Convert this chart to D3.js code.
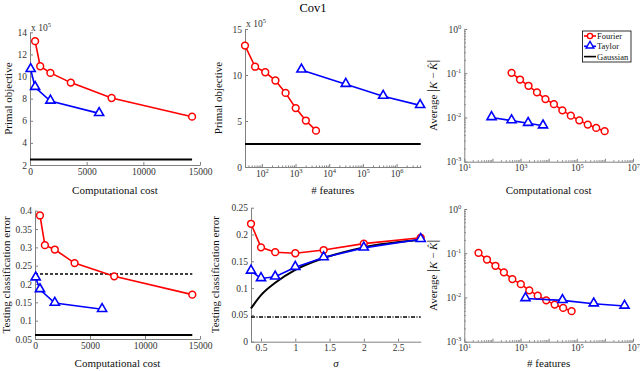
<!DOCTYPE html>
<html>
<head>
<meta charset="utf-8">
<script src="https://cdn.jsdelivr.net/npm/d3@7"></script>
<style>
  body { margin: 0; background: #fff; }
  svg { font-family: "Liberation Serif", "DejaVu Serif", serif; }
  .axis path, .axis line { stroke: #808080; }
  .axis text { fill: #333; font-size: 9.5px; font-family: "Liberation Serif", serif; }
  .lbl { font-size: 11px; fill: #111; }
</style>
</head>
<body>
<svg id="chart" width="640" height="371"></svg>
<script>
// ---- data ----
// panel 1 & 4 : computational cost
const fourierCost = [450, 900, 1800, 3600, 7200, 14300]
const taylorCost = [60, 450, 1800, 6100]
const fourierPrimal = [13.2, 10.93, 10.33, 9.45, 8.06, 6.37]   // x 10^5
const taylorPrimal = [10.65, 9.03, 7.79, 6.67]
const gaussPrimal = 2.5
const fourierTestErr = [0.387, 0.306, 0.294, 0.257, 0.221, 0.171]
const taylorTestErr = [0.217, 0.185, 0.148, 0.131]
const dashedErr = 0.227
const gaussTestErr = 0.061

// panel 2 : # features
const fourierFeat8 = [31.6, 63, 126, 253, 506, 1012, 2024, 4048]
const fourierPrimal8 = [13.2, 10.9, 10.3, 9.4, 8.05, 6.4, 5.05, 3.95]
const taylorFeat = [1500, 31000, 400000, 5000000]
const taylorPrimal2 = [10.55, 9.0, 7.7, 6.7]

// panels 3 & 6 : kernel approximation error
const fourierCost12 = [480, 960, 1920, 3840, 7680, 15360, 30720, 61440, 122880, 245760, 491520, 983040]
const fourierFeat12 = [32, 64, 128, 256, 512, 1024, 2048, 4096, 8192, 16384, 32768, 65536]
const fourierKerr = [0.102, 0.072, 0.052, 0.037, 0.026, 0.020, 0.0145, 0.011, 0.0086, 0.0069, 0.0058, 0.0049]
const taylorCost3 = [93, 480, 1860, 6300]
const taylorKerr = [0.0100, 0.0085, 0.0074, 0.0065]
const taylorKerr6 = [0.0095, 0.0086, 0.0072, 0.0064]

// panel 5 : sigma
const sigmas = [0.354, 0.5, 0.707, 1, 1.414, 2, 2.83]
const fourierSigErr = [0.220, 0.176, 0.167, 0.165, 0.171, 0.183, 0.194]
const taylorSigErr = [0.132, 0.118, 0.121, 0.139, 0.157, 0.175, 0.191]
const gaussSigErr = [0.062, 0.087, 0.110, 0.134, 0.156, 0.176, 0.190]
const dashDotErr = 0.046

const RED = "#ff0000", BLUE = "#0000ff"
const svg = d3.select("#chart")

// title
svg.append("text").attr("x", 313).attr("y", 12).attr("text-anchor", "middle")
  .attr("font-size", 12.5).text("Cov1")

// helper: superscript labels for log axes (only decades listed in keep)
const supLabels = (sel, keep) => {
  sel.selectAll(".tick text").each(function(d) {
    const t = d3.select(this)
    const e = Math.round(Math.log10(d))
    if (keep && !keep.includes(e)) { t.text(""); return }
    t.text("10").append("tspan").attr("dy", "-0.6em").attr("font-size", "6.5px").text(e)
  })
}

const logTicks = (lo, hi) => {
  let major = [], minor = []
  for (let e = Math.floor(Math.log10(lo)); e <= Math.ceil(Math.log10(hi)); e++) {
    for (let m = 1; m < 10; m++) {
      const v = m * Math.pow(10, e)
      if (v < lo * 0.999 || v > hi * 1.001) continue
      if (m === 1) major.push(v); else minor.push(v)
    }
  }
  return { major, minor }
}

// build a panel: returns scales
const panel = (cfg) => {
  const x = (cfg.xlog ? d3.scaleLog() : d3.scaleLinear()).domain(cfg.xd).range([cfg.x0, cfg.x1])
  const y = (cfg.ylog ? d3.scaleLog() : d3.scaleLinear()).domain(cfg.yd).range([cfg.y1, cfg.y0])
  const g = svg.append("g")

  // x axis
  const xa = d3.axisBottom(x).tickSize(-3).tickPadding(3).tickSizeOuter(0)
  if (cfg.xlog) {
    const t = logTicks(cfg.xd[0], cfg.xd[1])
    xa.tickValues(t.major)
    g.append("g").attr("class", "axis").attr("transform", `translate(0,${cfg.y1})`)
      .call(d3.axisBottom(x).tickValues(t.minor).tickSize(-1.5).tickFormat(""))
      .select(".domain").remove()
  } else {
    xa.tickValues(cfg.xt).tickFormat(d => d)
  }
  const xg = g.append("g").attr("class", "axis").attr("transform", `translate(0,${cfg.y1})`).call(xa)
  if (cfg.xlog) supLabels(xg, cfg.xMajor)

  // y axis
  const ya = d3.axisLeft(y).tickSize(-3).tickPadding(2).tickSizeOuter(0)
  if (cfg.ylog) {
    const t = logTicks(cfg.yd[0], cfg.yd[1])
    ya.tickValues(t.major)
    g.append("g").attr("class", "axis").attr("transform", `translate(${cfg.x0},0)`)
      .call(d3.axisLeft(y).tickValues(t.minor).tickSize(-1.5).tickFormat(""))
      .select(".domain").remove()
  } else {
    ya.tickValues(cfg.yt).tickFormat(d => d)
  }
  const yg = g.append("g").attr("class", "axis").attr("transform", `translate(${cfg.x0},0)`).call(ya)
  if (cfg.ylog) supLabels(yg)
  yg.selectAll(".tick text").attr("dx", "-1")

  // axis labels
  const xl = g.append("text").attr("class", "lbl").attr("x", (cfg.x0 + cfg.x1) / 2)
    .attr("y", cfg.xly).attr("text-anchor", "middle")
  if (cfg.xlabel === "σ") xl.attr("font-style", "italic").attr("font-size", 12)
  xl.text(cfg.xlabel)

  const yl = g.append("text").attr("class", "lbl").attr("text-anchor", "middle")
    .attr("transform", `translate(${cfg.ylx},${(cfg.y0 + cfg.y1) / 2}) rotate(-90)`)
  if (cfg.ylabel === "K") {
    yl.append("tspan").text("Average ")
    yl.append("tspan").attr("font-size", 14).text("|")
    yl.append("tspan").attr("font-style", "italic").text("K")
    yl.append("tspan").text(" − ")
    yl.append("tspan").attr("font-style", "italic").text("K\u0302")
    yl.append("tspan").attr("font-size", 14).text("|")
  } else {
    yl.text(cfg.ylabel)
  }

  if (cfg.exp) {
    const ex = g.append("text").attr("x", cfg.exp[0]).attr("y", cfg.exp[1])
      .attr("font-size", 9.5).attr("fill", "#333").text("x 10")
    ex.append("tspan").attr("dy", "-0.6em").attr("font-size", "6.5px").text("5")
  }
  return { x, y, g }
}

const line = (p, xs, ys, color, w, dash, curve) => {
  const pts = xs.map((v, i) => [v, ys[i]])
  p.g.append("path").datum(pts)
    .attr("fill", "none").attr("stroke", color).attr("stroke-width", w)
    .attr("stroke-dasharray", dash || null)
    .attr("d", d3.line().x(d => p.x(d[0])).y(d => p.y(d[1])).curve(curve || d3.curveLinear))
}

const markers = (p, xs, ys, kind) => {
  const pts = xs.map((v, i) => [v, ys[i]])
  if (kind === "o") {
    p.g.selectAll(null).data(pts).join("circle")
      .attr("cx", d => p.x(d[0])).attr("cy", d => p.y(d[1])).attr("r", 3.4)
      .attr("fill", "#fff").attr("stroke", RED).attr("stroke-width", 1.5)
  } else {
    p.g.selectAll(null).data(pts).join("path")
      .attr("transform", d => `translate(${p.x(d[0])},${p.y(d[1]) - 0.5})`)
      .attr("d", d3.symbol(d3.symbolTriangle, 36))
      .attr("fill", "#fff").attr("stroke", BLUE).attr("stroke-width", 1.6)
  }
}

const series = (p, xs, ys, kind) => {
  line(p, xs, ys, kind === "o" ? RED : BLUE, 1.6)
  markers(p, xs, ys, kind)
}

// ---- panel 1 ----
const p1 = panel({ x0: 30, x1: 200, y0: 32.3, y1: 165, xd: [0, 15000], yd: [2, 14],
  xt: [0, 5000, 10000, 15000], yt: [2, 4, 6, 8, 10, 12, 14],
  xlabel: "Computational cost", xly: 194, ylabel: "Primal objective", ylx: 12, exp: [31, 31] })
line(p1, [0, 14300], [gaussPrimal, gaussPrimal], "#000", 2)
series(p1, fourierCost, fourierPrimal, "o")
series(p1, taylorCost, taylorPrimal, "^")

// ---- panel 2 ----
const p2 = panel({ x0: 245, x1: 420.7, y0: 29, y1: 167, xlog: true, xd: [31.6, 5.2e6], yd: [0, 15],
  yt: [0, 5, 10, 15], xlabel: "# features", xly: 194, ylabel: "Primal objective", ylx: 222, exp: [246, 27] })
line(p2, [31.6, 5.2e6], [gaussPrimal, gaussPrimal], "#000", 2)
series(p2, fourierFeat8, fourierPrimal8, "o")
series(p2, taylorFeat, taylorPrimal2, "^")

// ---- panel 3 ----
const p3 = panel({ x0: 464.3, x1: 633, y0: 29, y1: 161.7, xlog: true, ylog: true, xd: [10, 1e7], yd: [1e-3, 1],
  xMajor: [1, 3, 5, 7], xlabel: "Computational cost", xly: 194, ylabel: "K", ylx: 437 })
series(p3, fourierCost12, fourierKerr, "o")
series(p3, taylorCost3, taylorKerr, "^")

// legend
const lg = svg.append("g")
lg.append("rect").attr("x", 582.5).attr("y", 31).attr("width", 48.5).attr("height", 31)
  .attr("fill", "#fff").attr("stroke", "#000").attr("stroke-width", 0.8)
const legendItems = [["Fourier", RED, "o"], ["Taylor", BLUE, "^"], ["Gaussian", "#000", "-"]]
legendItems.forEach((it, i) => {
  const cy = 36 + i * 10.3
  lg.append("line").attr("x1", 584).attr("x2", 596).attr("y1", cy).attr("y2", cy)
    .attr("stroke", it[1]).attr("stroke-width", 1.6)
  if (it[2] === "o") lg.append("circle").attr("cx", 590).attr("cy", cy).attr("r", 2.6)
    .attr("fill", "#fff").attr("stroke", RED).attr("stroke-width", 1.4)
  if (it[2] === "^") lg.append("path").attr("transform", `translate(590,${cy - 0.5})`)
    .attr("d", d3.symbol(d3.symbolTriangle, 26)).attr("fill", "#fff").attr("stroke", BLUE).attr("stroke-width", 1.4)
  lg.append("text").attr("x", 597).attr("y", cy + 3).attr("font-size", 8.5).attr("fill", "#111").text(it[0])
})

// ---- panel 4 ----
const p4 = panel({ x0: 35, x1: 200, y0: 210.7, y1: 339, xd: [0, 15000], yd: [0.05, 0.4],
  xt: [0, 5000, 10000, 15000], yt: [0.05, 0.1, 0.15, 0.2, 0.25, 0.3, 0.35, 0.4],
  xlabel: "Computational cost", xly: 367, ylabel: "Testing classification error", ylx: 10 })
line(p4, [0, 14300], [dashedErr, dashedErr], "#000", 1.5, "3,2")
line(p4, [0, 14300], [gaussTestErr, gaussTestErr], "#000", 2)
series(p4, fourierCost, fourierTestErr, "o")
series(p4, taylorCost, taylorTestErr, "^")

// ---- panel 5 ----
const p5 = panel({ x0: 251, x1: 420.7, y0: 207.7, y1: 341.7, xd: [0.354, 2.83], yd: [0, 0.25],
  xt: [0.5, 1, 1.5, 2, 2.5], yt: [0, 0.05, 0.1, 0.15, 0.2, 0.25],
  xlabel: "σ", xly: 367, ylabel: "Testing classification error", ylx: 219 })
line(p5, [0.354, 2.83], [dashDotErr, dashDotErr], "#000", 1.5, "4,1.5,1,1.5")
line(p5, sigmas, gaussSigErr, "#000", 2, null, d3.curveMonotoneX)
series(p5, sigmas, fourierSigErr, "o")
series(p5, sigmas, taylorSigErr, "^")

// ---- panel 6 ----
const p6 = panel({ x0: 464.3, x1: 633, y0: 209, y1: 341.7, xlog: true, ylog: true, xd: [10, 1e7], yd: [1e-3, 1],
  xMajor: [1, 3, 5, 7], xlabel: "# features", xly: 367, ylabel: "K", ylx: 437 })
series(p6, fourierFeat12, fourierKerr, "o")
series(p6, taylorFeat, taylorKerr6, "^")
</script>
</body>
</html>
